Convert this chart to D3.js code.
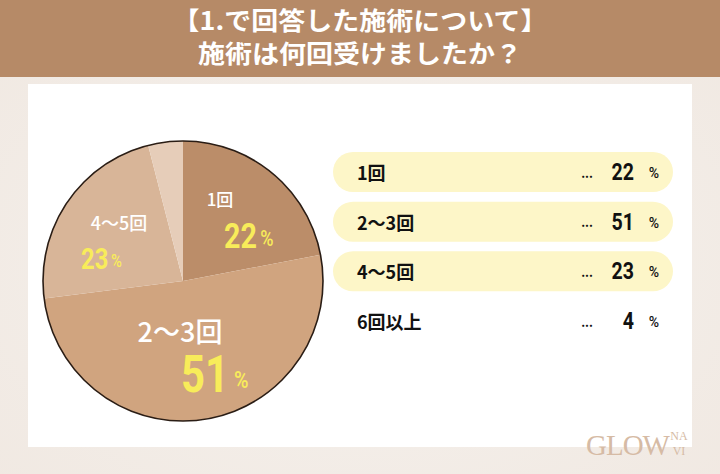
<!DOCTYPE html>
<html><head><meta charset="utf-8">
<script src="https://cdn.jsdelivr.net/npm/d3@7"></script>
<style>
html,body{margin:0;padding:0;background:#f4efea;}
svg{display:block;}
</style></head>
<body>
<script>
const titleLines = ["【1.で回答した施術について】", "施術は何回受けましたか？"];
const categories = ["1回", "2〜3回", "4〜5回", "6回以上"];
const values = [22, 51, 23, 4];
const sliceColors = ["#bb8d69", "#d0a47f", "#d8b598", "#e6cdb9"];
const pillRows = [true, true, true, false];

const W = 720, H = 474;
const svg = d3.select("body").append("svg").attr("width", W).attr("height", H);
const font = "'Noto Sans CJK JP','Noto Sans',sans-serif";
const numFont = "Roboto,'Noto Sans',sans-serif";

// background
const defs = svg.append("defs");
const rg = defs.append("radialGradient").attr("id","bg").attr("cx","50%").attr("cy","55%").attr("r","75%");
rg.append("stop").attr("offset","0%").attr("stop-color","#f6f2ee");
rg.append("stop").attr("offset","100%").attr("stop-color","#f0e8e1");
svg.append("rect").attr("width",W).attr("height",H).attr("fill","url(#bg)");

// header
svg.append("rect").attr("x",0).attr("y",0).attr("width",W).attr("height",77).attr("fill","#b68a67");
svg.selectAll("text.title").data(titleLines).join("text")
  .attr("x", W/2).attr("y",(d,i)=>21+i*35).attr("text-anchor","middle").attr("dominant-baseline","central")
  .attr("fill","#fff").attr("font-family",font).attr("font-weight",700).attr("font-size",27)
  .attr("transform",`translate(${W/2},0) scale(1,0.92) translate(${-W/2},0)`)
  .text(d=>d);

// white panel
svg.append("rect").attr("x",28).attr("y",84).attr("width",664).attr("height",363).attr("fill","#ffffff");

// pie
const cx = 183, cy = 281, R = 140;
const pie = d3.pie().sort(null).value(d=>d)(values);
const arc = d3.arc().innerRadius(0).outerRadius(R);
const g = svg.append("g").attr("transform",`translate(${cx},${cy})`);
g.selectAll("path").data(pie).join("path").attr("d",arc).attr("fill",(d,i)=>sliceColors[i]);
g.append("circle").attr("r",R).attr("fill","none").attr("stroke","#2a1d15").attr("stroke-width",1.6);

// pie labels
const nameCfg = [[220,198,17],[180,330,27],[119,222,18]];
const pctCfg = [[224,236,35,22],[181,375,51,24],[81,258,29,18]];
nameCfg.forEach((c,i)=>{
  svg.append("text").attr("x",c[0]).attr("y",c[1]).attr("text-anchor","middle")
    .attr("dominant-baseline","central").attr("fill","#fff").attr("font-family",font)
    .attr("font-weight",500).attr("font-size",c[2]).text(categories[i]);
});
pctCfg.forEach((c,i)=>{
  const t = svg.append("text").attr("x",0).attr("y",0)
    .attr("transform",`translate(${c[0]},${c[1]}) scale(0.82,1)`)
    .attr("dominant-baseline","central").attr("fill","#f8ec5a").attr("font-family",numFont).attr("font-weight",700);
  t.append("tspan").attr("font-size",c[2]).text(values[i]);
  t.append("tspan").attr("font-size",c[3]).attr("font-weight",500).attr("dx",c[2]*0.12).attr("dy",c[2]*0.08).text("%");
});

// legend rows
const y = d3.scalePoint().domain(categories).range([172,321]);
const rows = svg.selectAll("g.row").data(categories).join("g").attr("class","row")
  .attr("transform",d=>`translate(0,${y(d)})`);
rows.filter((d,i)=>pillRows[i]).append("rect").attr("x",333).attr("y",-20).attr("width",340).attr("height",40)
  .attr("rx",20).attr("fill","#fdf6c8");
rows.append("text").attr("x",357).attr("y",0).attr("dominant-baseline","central")
  .attr("font-family",font).attr("font-weight",700).attr("font-size",18).attr("fill","#111").text(d=>d);
rows.append("text").attr("x",587).attr("y",0).attr("text-anchor","middle").attr("dominant-baseline","central")
  .attr("font-family",font).attr("font-weight",700).attr("font-size",12).attr("fill","#111").text("...");
rows.append("text").attr("x",0).attr("y",0).attr("text-anchor","end").attr("dominant-baseline","central")
  .attr("transform","translate(634,0) scale(0.85,1)")
  .attr("font-family",numFont).attr("font-weight",700).attr("font-size",23).attr("fill","#111").text((d,i)=>values[i]);
rows.append("text").attr("x",654).attr("y",1).attr("text-anchor","middle").attr("dominant-baseline","central")
  .attr("font-family",numFont).attr("font-weight",500).attr("font-size",14).attr("fill","#111").text("%");

// logo
svg.append("text").attr("x",586).attr("y",455).attr("font-family","'Liberation Serif',serif")
  .attr("font-size",29).attr("fill","#d6bba5").attr("letter-spacing",-1).text("GLOW");
svg.append("text").attr("x",679).attr("y",440).attr("font-family","'Liberation Serif',serif")
  .attr("font-size",12).attr("fill","#d6bba5").attr("text-anchor","middle").text("NA");
svg.append("text").attr("x",679).attr("y",455).attr("font-family","'Liberation Serif',serif")
  .attr("font-size",12).attr("fill","#d6bba5").attr("text-anchor","middle").text("VI");
</script>
</body></html>
